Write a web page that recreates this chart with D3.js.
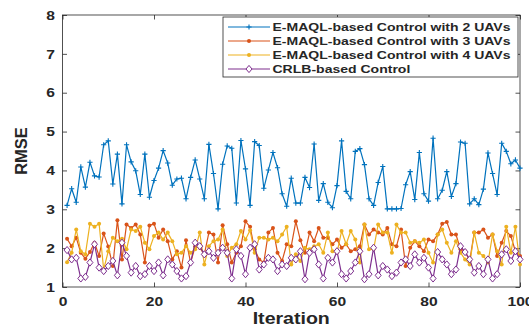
<!DOCTYPE html>
<html>
<head>
<meta charset="utf-8">
<script src="https://cdn.jsdelivr.net/npm/d3@7"></script>
<style>
  html, body { margin: 0; padding: 0; background: #fff; }
  text { font-family: "Liberation Sans", Arial, sans-serif; font-weight: bold; fill: #262626; }
</style>
</head>
<body>
<svg id="chart" width="529" height="327"></svg>
<script>
// values (iterations 1..100)
const rmse2 = [3.10, 3.53, 3.18, 4.09, 3.57, 4.21, 3.86, 3.83, 4.66, 4.76,
  3.65, 4.42, 3.14, 4.66, 4.22, 3.99, 3.38, 4.42, 3.31, 3.74,
  4.06, 4.51, 4.19, 3.62, 3.78, 3.80, 3.27, 3.82, 4.27, 3.78,
  3.27, 4.67, 3.92, 3.01, 4.16, 4.63, 4.57, 3.16, 4.77, 4.04,
  3.10, 4.74, 4.64, 3.54, 4.01, 4.46, 4.07, 3.40, 3.08, 3.80,
  3.16, 3.16, 3.82, 3.56, 4.68, 3.23, 3.66, 3.18, 3.04, 3.61,
  4.76, 3.46, 3.27, 4.49, 4.56, 4.15, 3.27, 3.10, 3.69, 4.10,
  3.01, 3.01, 3.01, 3.02, 3.63, 3.97, 3.25, 4.46, 3.40, 3.21,
  4.83, 3.27, 3.49, 3.97, 3.33, 3.66, 4.73, 4.70, 3.14, 3.27,
  3.12, 3.52, 4.45, 3.92, 3.38, 4.70, 4.49, 4.17, 4.27, 4.06];

const rmse3 = [2.24, 2.05, 2.27, 1.88, 1.73, 1.90, 2.14, 1.80, 2.38, 2.04,
  1.54, 2.72, 1.71, 2.61, 2.52, 2.61, 2.35, 1.63, 2.58, 2.63,
  2.27, 2.48, 2.18, 1.71, 1.92, 1.50, 2.20, 1.63, 2.04, 2.01,
  1.84, 2.40, 2.35, 1.63, 2.59, 2.10, 1.63, 1.88, 2.05, 2.69,
  2.55, 1.97, 1.71, 1.63, 2.40, 2.52, 1.88, 1.67, 2.10, 2.05,
  2.69, 2.20, 1.88, 2.40, 2.18, 2.52, 2.27, 2.27, 2.10, 2.22,
  2.01, 2.10, 1.92, 1.97, 2.05, 2.61, 2.35, 2.48, 2.40, 2.35,
  2.52, 2.10, 2.05, 2.48, 1.54, 2.01, 2.18, 2.05, 1.92, 2.22,
  2.18, 2.35, 2.63, 2.67, 2.35, 2.35, 1.97, 1.92, 1.67, 2.40,
  2.40, 2.48, 2.27, 2.35, 1.80, 2.14, 2.44, 2.31, 1.92, 1.80];

const rmse4 = [1.64, 1.88, 2.48, 1.92, 1.84, 2.63, 2.55, 2.63, 1.45, 1.92,
  2.27, 2.18, 2.24, 1.97, 2.48, 2.44, 2.55, 2.14, 1.97, 2.31,
  2.40, 2.22, 2.40, 2.18, 1.84, 1.88, 2.05, 1.88, 1.97, 2.40,
  1.58, 2.05, 2.18, 2.22, 2.48, 1.80, 2.01, 2.10, 2.44, 2.22,
  2.46, 1.88, 2.27, 2.27, 2.22, 2.27, 2.18, 2.35, 2.55, 1.58,
  1.84, 1.67, 2.01, 1.97, 2.05, 2.10, 1.88, 2.40, 1.92, 1.88,
  2.44, 2.10, 2.44, 2.22, 1.63, 2.61, 1.97, 1.97, 2.61, 2.40,
  2.40, 1.88, 2.61, 2.40, 2.40, 2.14, 2.18, 2.14, 2.22, 1.88,
  1.63, 2.35, 2.48, 2.14, 1.88, 2.18, 1.88, 1.71, 1.58, 2.40,
  1.88, 1.80, 1.63, 2.35, 1.92, 1.58, 2.55, 1.88, 2.55, 1.58];

const rmseCrlb = [1.95, 1.71, 1.75, 1.22, 1.26, 1.63, 2.10, 1.50, 1.41, 1.54,
  1.67, 1.30, 2.14, 1.80, 1.37, 1.54, 1.28, 1.33, 1.54, 1.41,
  1.63, 1.30, 1.71, 1.58, 1.41, 1.22, 1.28, 1.63, 2.14, 2.05,
  1.84, 1.92, 1.75, 1.88, 2.01, 1.88, 1.22, 1.97, 1.80, 1.33,
  2.01, 2.10, 1.45, 1.58, 1.75, 1.71, 1.41, 1.58, 1.54, 1.75,
  1.71, 1.92, 1.20, 1.88, 1.97, 1.58, 1.22, 1.75, 1.63, 1.92,
  1.33, 1.22, 1.41, 1.63, 1.92, 1.20, 1.33, 2.01, 1.30, 1.54,
  1.45, 1.28, 1.37, 1.63, 1.71, 1.54, 1.84, 1.63, 1.75, 1.50,
  1.22, 1.90, 1.71, 1.58, 1.33, 1.45, 2.05, 1.90, 1.71, 1.37,
  1.54, 1.33, 1.71, 1.22, 1.33, 1.84, 1.97, 1.67, 1.92, 1.71];

const seriesNames = [
  'E-MAQL-based Control with 2 UAVs',
  'E-MAQL-based Control with 3 UAVs',
  'E-MAQL-based Control with 4 UAVs',
  'CRLB-based Control'
];
const xTicks = [0, 20, 40, 60, 80, 100];
const yTicks = [1, 2, 3, 4, 5, 6, 7, 8];

const series = [
  { name: seriesNames[0], values: rmse2, color: '#0072BD', marker: 'plus' },
  { name: seriesNames[1], values: rmse3, color: '#D95319', marker: 'dot' },
  { name: seriesNames[2], values: rmse4, color: '#EDB120', marker: 'dot' },
  { name: seriesNames[3], values: rmseCrlb, color: '#7E2F8E', marker: 'diamond' }
];

const svg = d3.select('#chart');
const plotL = 62.5, plotR = 520, plotT = 15, plotB = 287;

const x = d3.scaleLinear().domain([0, 100]).range([plotL, plotR]);
const y = d3.scaleLinear().domain([1, 8]).range([plotB, plotT]);

// stretch text horizontally, the reference is wider than tall
function stretch(sel, k) {
  sel.each(function () {
    const len = this.getComputedTextLength();
    d3.select(this).attr('textLength', len * k).attr('lengthAdjust', 'spacingAndGlyphs');
  });
}

// axes (ticks inward on all four sides)
const gx = svg.append('g').attr('transform', `translate(0,${plotB})`)
  .call(d3.axisBottom(x).tickValues(xTicks).tickFormat(d3.format('d'))
    .tickSizeInner(-4.5).tickSizeOuter(0).tickPadding(9.5));
const gxTop = svg.append('g').attr('transform', `translate(0,${plotT})`)
  .call(d3.axisTop(x).tickValues(xTicks).tickSizeInner(-4.5).tickSizeOuter(0).tickFormat(''));
const gy = svg.append('g').attr('transform', `translate(${plotL},0)`)
  .call(d3.axisLeft(y).tickValues(yTicks).tickFormat(d3.format('d'))
    .tickSizeInner(-4.5).tickSizeOuter(0).tickPadding(7.5));
const gyRight = svg.append('g').attr('transform', `translate(${plotR},0)`)
  .call(d3.axisRight(y).tickValues(yTicks).tickSizeInner(-4.5).tickSizeOuter(0).tickFormat(''));

[gx, gxTop, gy, gyRight].forEach(g => {
  g.select('.domain').remove();
  g.selectAll('line').attr('stroke', '#262626').attr('stroke-width', 0.8);
  g.selectAll('text').attr('font-size', 13).attr('fill', '#262626')
    .style('font-family', '"Liberation Sans", Arial, sans-serif').style('font-weight', 'bold');
});
stretch(gx.selectAll('text'), 1.2);
stretch(gy.selectAll('text'), 1.2);

svg.append('rect')
  .attr('x', plotL).attr('y', plotT)
  .attr('width', plotR - plotL).attr('height', plotB - plotT)
  .attr('fill', 'none').attr('stroke', '#262626').attr('stroke-width', 0.8);

// series
const iters = d3.range(1, rmse2.length + 1);
const line = d3.line().x(d => x(d[0])).y(d => y(d[1]));

function drawMarker(g, type, color, cx, cy) {
  if (type === 'plus') {
    g.append('path')
      .attr('d', `M${cx - 2.6},${cy}H${cx + 2.6}M${cx},${cy - 2.6}V${cy + 2.6}`)
      .attr('stroke', color).attr('stroke-width', 1.1).attr('fill', 'none');
  } else if (type === 'dot') {
    g.append('circle').attr('cx', cx).attr('cy', cy).attr('r', 2)
      .attr('fill', color);
  } else {
    g.append('path')
      .attr('d', `M${cx},${cy - 3.6}L${cx + 3},${cy}L${cx},${cy + 3.6}L${cx - 3},${cy}Z`)
      .attr('stroke', color).attr('stroke-width', 1).attr('fill', '#fff');
  }
}

series.forEach(s => {
  const pts = iters.map((it, i) => [it, s.values[i]]);
  const g = svg.append('g');
  g.append('path').datum(pts)
    .attr('d', line)
    .attr('fill', 'none')
    .attr('stroke', s.color)
    .attr('stroke-width', 1.2)
    .attr('stroke-linejoin', 'round');
  pts.forEach(p => drawMarker(g, s.marker, s.color, x(p[0]), y(p[1])));
});

// axis titles
const xt = svg.append('text')
  .attr('x', (plotL + plotR) / 2).attr('y', 324)
  .attr('text-anchor', 'middle').attr('font-size', 17)
  .text('Iteration');
stretch(xt, 1.15);

svg.append('text')
  .attr('transform', `translate(26.5,${(plotT + plotB) / 2}) rotate(-90)`)
  .attr('text-anchor', 'middle').attr('font-size', 16.5)
  .text('RMSE');

// legend
const lg = svg.append('g');
lg.append('rect')
  .attr('x', 223).attr('y', 17).attr('width', 295).attr('height', 60)
  .attr('fill', '#fff').attr('stroke', '#262626').attr('stroke-width', 0.8);

const rowY = d3.scaleLinear().domain([0, 3]).range([27, 69]);
let k = 1;
series.forEach((s, i) => {
  const yy = rowY(i);
  lg.append('line')
    .attr('x1', 228).attr('x2', 270).attr('y1', yy).attr('y2', yy)
    .attr('stroke', s.color).attr('stroke-width', 1.2);
  drawMarker(lg, s.marker, s.color, 249, yy);
  const t = lg.append('text')
    .attr('x', 272.5).attr('y', yy).attr('dy', '0.36em')
    .attr('font-size', 10.8)
    .text(s.name);
  if (i === 0) k = 238 / t.node().getComputedTextLength();
  stretch(t, k);
});
</script>
</body>
</html>
